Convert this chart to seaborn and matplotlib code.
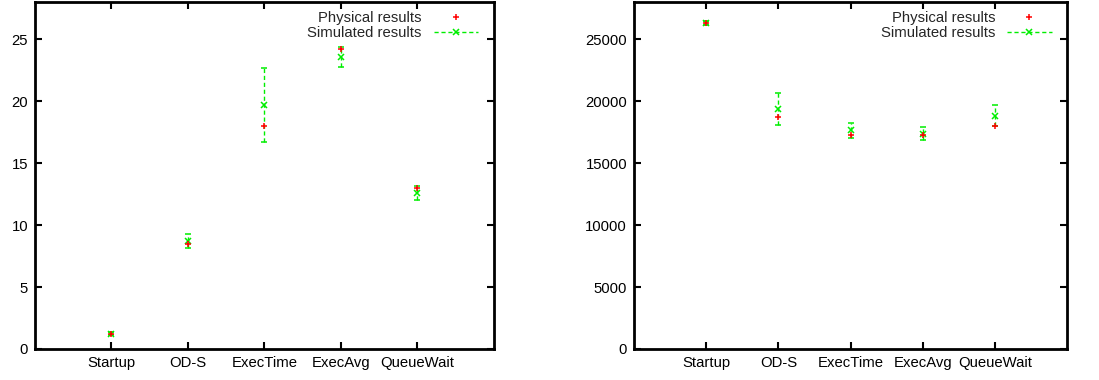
import matplotlib
matplotlib.use("Agg")
import matplotlib.pyplot as plt
from matplotlib.lines import Line2D
import seaborn as sns
import pandas as pd

sns.set_theme(style="white")
plt.rcParams['font.family'] = ['Liberation Sans', 'DejaVu Sans']

categories = ["Startup", "OD-S", "ExecTime", "ExecAvg", "QueueWait"]

# Left panel
phys_left = [1.2, 8.5, 18.0, 24.2, 13.0]
sim_left = [1.25, 8.75, 19.7, 23.55, 12.6]
sim_left_lo = [1.1, 8.15, 16.7, 22.75, 12.05]
sim_left_hi = [1.4, 9.28, 22.7, 24.35, 13.12]

# Right panel
phys_right = [26300, 18730, 17300, 17300, 18000]
sim_right = [26300, 19380, 17700, 17380, 18810]
sim_right_lo = [26150, 18110, 17030, 16870, 17970]
sim_right_hi = [26450, 20680, 18270, 17890, 19700]

left_ticks = [0, 5, 10, 15, 20, 25]
right_ticks = [0, 5000, 10000, 15000, 20000, 25000]

RED = "#ff0000"
GREEN = "#00ee00"

fig = plt.figure(figsize=(10.99, 3.80), dpi=100)
ax1 = fig.add_axes([0.0318, 0.0816, 0.4177, 0.913])
ax2 = fig.add_axes([0.5769, 0.0816, 0.394, 0.913])


def draw(ax, phys, sim, lo, hi, yticks, ymax):
    pos = list(range(1, len(categories) + 1))
    df = pd.DataFrame({"x": pos, "phys": phys})
    yerr = [[s - l for s, l in zip(sim, lo)], [h - s for s, h in zip(sim, hi)]]
    eb = ax.errorbar(pos, sim, yerr=yerr, fmt='x', color=GREEN, ms=4, mew=1.1,
                     ecolor=GREEN, elinewidth=1.0, capsize=2.5, capthick=1.0, zorder=2)
    for c in eb[2]:
        c.set_linestyle((0, (3, 2)))
    sns.scatterplot(data=df, x="x", y="phys", ax=ax, marker='+', color=RED,
                    s=18, linewidth=1.1, zorder=3, legend=False)
    ax.set_xlim(0, 6)
    ax.set_ylim(0, ymax)
    ax.set_xticks(pos)
    ax.set_xticklabels(categories)
    ax.set_yticks(yticks)
    ax.set_xlabel("")
    ax.set_ylabel("")
    ax.tick_params(direction='in', length=5, width=1.5, top=True, right=True,
                   bottom=True, left=True, labelsize=10.7, colors='black', pad=5)
    for s in ax.spines.values():
        s.set_linewidth(2)
        s.set_color('black')
    handles = [
        Line2D([], [], color=RED, marker='+', ls='none', ms=4.5, mew=1.1),
        Line2D([], [], color=GREEN, marker='x', ls=(0, (3, 2)), lw=1.0, ms=4, mew=1.1),
    ]
    ax.legend(handles, ["Physical results", "Simulated results"], loc='upper right',
              frameon=False, markerfirst=False, handlelength=3.0, fontsize=10.7,
              borderaxespad=0.2, labelspacing=0.05, handletextpad=0.8,
              bbox_to_anchor=(0.985, 1.0))


draw(ax1, phys_left, sim_left, sim_left_lo, sim_left_hi, left_ticks, 28)
draw(ax2, phys_right, sim_right, sim_right_lo, sim_right_hi, right_ticks, 28000)

fig.savefig("out.png", dpi=100)
